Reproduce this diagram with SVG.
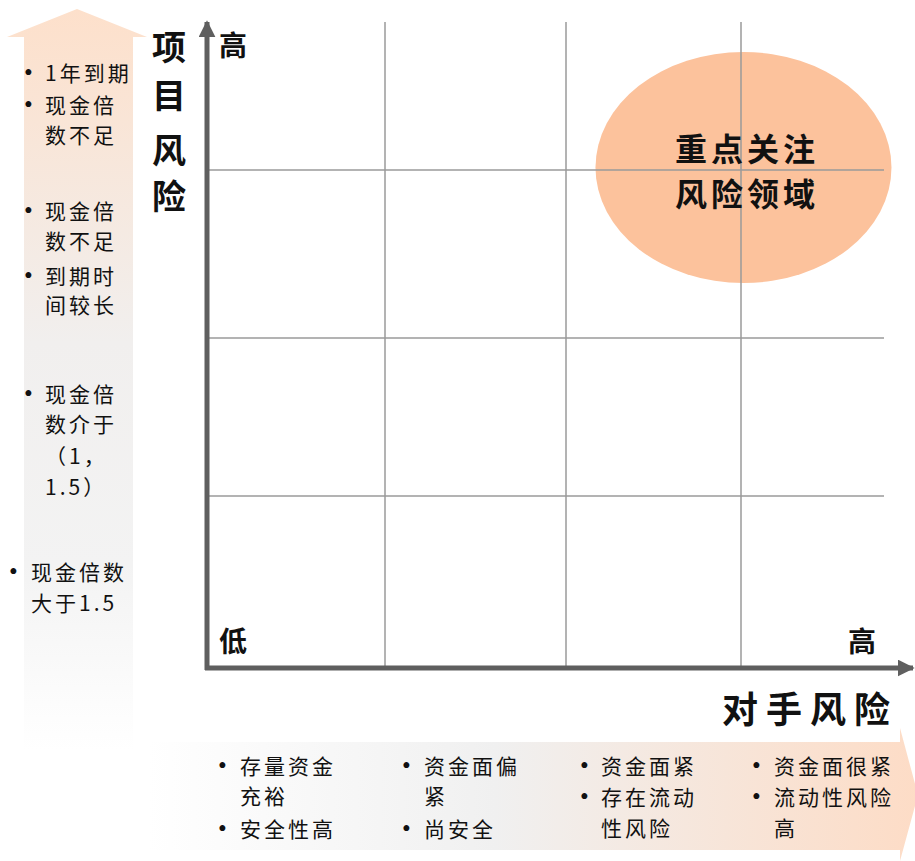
<svg xmlns="http://www.w3.org/2000/svg" width="915" height="861" viewBox="0 0 915 861">
<defs>
<linearGradient id="gv" x1="0" y1="0" x2="0" y2="1">
<stop offset="0" stop-color="#fde0cb"/>
<stop offset="0.45" stop-color="#f1efee"/>
<stop offset="0.75" stop-color="#f3f3f3"/>
<stop offset="1" stop-color="#ffffff"/>
</linearGradient>
<linearGradient id="gh" x1="0" y1="0" x2="1" y2="0">
<stop offset="0" stop-color="#ffffff"/>
<stop offset="0.45" stop-color="#f0f0f0"/>
<stop offset="1" stop-color="#fddcc6"/>
</linearGradient>
<marker id="ah" viewBox="0 0 10 10" refX="9" refY="5" markerWidth="3.4" markerHeight="3.4" orient="auto" markerUnits="strokeWidth">
<path d="M0,0 L10,5 L0,10 z" fill="#5f5f5f"/>
</marker>
<style>
.t{font-family:"Noto Sans CJK SC","Noto Sans",sans-serif;fill:#111;}
.s{font-size:21px;letter-spacing:3px;}
.d{font-family:"Liberation Serif",serif;letter-spacing:0;font-size:25px;}
.b{font-size:32px;font-weight:bold;letter-spacing:4px;}
.m{font-size:28px;font-weight:bold;}
.x{font-size:36px;font-weight:bold;letter-spacing:8px;}
.g{stroke:#9a9a9a;stroke-width:1.5;fill:none;}
.ax{stroke:#5f5f5f;stroke-width:5;fill:none;}
</style>
</defs>

<g id="left-arrow">
<path d="M24,750 L24,37 L7,37 L77,9 L147,37 L133,37 L133,750 z" fill="url(#gv)"/>
<g class="t s">
<text x="24" y="81"><tspan class="d">•</tspan><tspan x="45">1年到期</tspan></text>
<text x="24" y="113"><tspan class="d">•</tspan><tspan x="45">现金倍</tspan></text>
<text x="45" y="143">数不足</text>
<text x="24" y="219"><tspan class="d">•</tspan><tspan x="45">现金倍</tspan></text>
<text x="45" y="249">数不足</text>
<text x="24" y="284"><tspan class="d">•</tspan><tspan x="45">到期时</tspan></text>
<text x="45" y="313">间较长</text>
<text x="24" y="402"><tspan class="d">•</tspan><tspan x="45">现金倍</tspan></text>
<text x="45" y="432">数介于</text>
<text x="45" y="464">（1，</text>
<text x="45" y="495">1.5）</text>
<text x="9" y="580"><tspan class="d">•</tspan><tspan x="31">现金倍数</tspan></text>
<text x="31" y="611">大于1.5</text>
</g>
</g>

<g id="bottom-arrow">
<path d="M148,742 L900,742 L900,728 L918,795 L900,861 L900,850 L148,850 z" fill="url(#gh)"/>
<g class="t s">
<text x="218" y="774"><tspan class="d">•</tspan><tspan x="240">存量资金</tspan></text>
<text x="240" y="804">充裕</text>
<text x="218" y="837"><tspan class="d">•</tspan><tspan x="240">安全性高</tspan></text>
<text x="402" y="774"><tspan class="d">•</tspan><tspan x="424">资金面偏</tspan></text>
<text x="424" y="804">紧</text>
<text x="402" y="837"><tspan class="d">•</tspan><tspan x="424">尚安全</tspan></text>
<text x="580" y="774"><tspan class="d">•</tspan><tspan x="601">资金面紧</tspan></text>
<text x="580" y="805"><tspan class="d">•</tspan><tspan x="601">存在流动</tspan></text>
<text x="601" y="836">性风险</text>
<text x="752" y="774"><tspan class="d">•</tspan><tspan x="774">资金面很紧</tspan></text>
<text x="752" y="805"><tspan class="d">•</tspan><tspan x="774">流动性风险</tspan></text>
<text x="774" y="836">高</text>
</g>
</g>

<g id="focus-area">
<ellipse cx="743.5" cy="167.5" rx="148" ry="115.5" fill="#fcc29c"/>
</g>

<g id="grid">
<line class="g" x1="385" y1="22" x2="385" y2="668"/>
<line class="g" x1="566" y1="22" x2="566" y2="668"/>
<line class="g" x1="741" y1="22" x2="741" y2="668"/>
<line class="g" x1="207" y1="170" x2="884" y2="170"/>
<line class="g" x1="207" y1="338" x2="884" y2="338"/>
<line class="g" x1="207" y1="496" x2="884" y2="496"/>
</g>

<g id="focus-label" class="t b" text-anchor="middle">
<text x="747" y="161">重点关注</text>
<text x="747" y="206">风险领域</text>
</g>

<g id="axes">
<line class="ax" x1="207" y1="670" x2="207" y2="22" marker-end="url(#ah)"/>
<line class="ax" x1="205" y1="668" x2="913" y2="668" marker-end="url(#ah)"/>
</g>

<g id="axis-labels" class="t">
<g class="b" text-anchor="middle" style="font-size:34px">
<text x="171" y="60">项</text>
<text x="171" y="108">目</text>
<text x="171" y="163">风</text>
<text x="171" y="209">险</text>
</g>
<text class="m" x="219" y="56">高</text>
<text class="m" x="219" y="652">低</text>
<text class="m" x="848" y="652">高</text>
<text class="x" x="722" y="723">对手风险</text>
</g>
</svg>
